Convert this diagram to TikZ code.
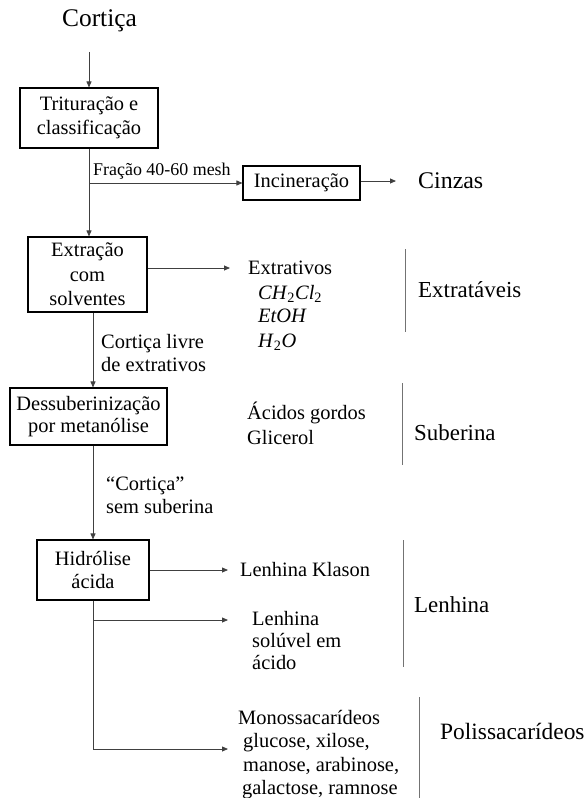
\documentclass[tikz,border=0pt]{standalone}
\usepackage{fontspec}
\setmainfont{Liberation Serif}
\usetikzlibrary{arrows.meta}
\newcommand{\chemsub}[1]{\textsubscript{#1}}
\begin{document}
\begin{tikzpicture}[x=1bp,y=-1bp,
  box/.style={draw=black, line width=1.1bp, inner sep=0, align=center},
  txt/.style={inner sep=0, anchor=west, align=left, font=\fontsize{20.5}{22.5}\selectfont},
  big/.style={inner sep=0, anchor=west, font=\fontsize{23}{26}\selectfont},
  con/.style={draw=black!75, line width=0.8bp},
  arr/.style={con, -{Triangle[length=6bp,width=5bp]}},
  sep/.style={draw=black!55, line width=0.9bp}]
\useasboundingbox (0,0) rectangle (587,798);

% title
\node[inner sep=0, font=\fontsize{25.5}{28}\selectfont] (title) at (99.5,21) {Cortiça};
\coordinate (c0) at (89,52);

% process boxes
\node[box, minimum width=138bp, minimum height=60bp, font=\fontsize{20.5}{24}\selectfont] (b1) at (89,118) {Trituração e\\classificação};
\node[box, minimum width=117bp, minimum height=34bp, font=\fontsize{20.5}{24}\selectfont] (inc) at (301.5,183) {Incineração};
\node[box, minimum width=119bp, minimum height=75bp, font=\fontsize{20.5}{24.5}\selectfont] (b2) at (87.5,274.5) {Extração\\com\\solventes};
\node[box, minimum width=157bp, minimum height=57bp, font=\fontsize{20.5}{22}\selectfont] (b3) at (88.5,416.5) {Dessuberinização\\por metanólise};
\node[box, minimum width=112bp, minimum height=60bp, font=\fontsize{20.5}{23}\selectfont] (b4) at (93,570) {Hidrólise\\ácida};

% products
\node[inner sep=0, anchor=west, font=\fontsize{24}{26}\selectfont] (cin) at (418,181) {Cinzas};
\node[txt] (ext) at (248,268) {Extrativos};
\node[txt] (m1) at (258,294) {\textit{CH}\chemsub{2}\textit{Cl}\chemsub{2}};
\node[txt] (m2) at (258,316) {\textit{EtOH}};
\node[txt] (m3) at (258,342) {\textit{H}\chemsub{2}\textit{O}};
\node[txt, font=\fontsize{20.5}{25}\selectfont] (acg) at (247,423.5) {Ácidos gordos\\Glicerol};
\node[txt] (lk) at (240,570) {Lenhina Klason};
\node[txt, anchor=north west, font=\fontsize{20.5}{22}\selectfont] (ls) at (252,611) {Lenhina\\solúvel em\\ácido};
\node[txt, anchor=north west, font=\fontsize{20.5}{23.5}\selectfont] (mono) at (238,710) {Monossacarídeos\\\hspace*{5bp}glucose, xilose,\\\hspace*{5bp}manose, arabinose,\\\hspace*{4bp}galactose, ramnose};

% group labels
\node[big] (gext) at (418,290) {Extratáveis};
\node[big] (gsub) at (414,433) {Suberina};
\node[big] (glen) at (414,605) {Lenhina};
\node[big, font=\fontsize{23.5}{26}\selectfont] (gpol) at (440,731) {Polissacarídeos};

% edge labels
\node[txt, anchor=south west, font=\fontsize{18}{20}\selectfont] (lfr) at (93,179.5) {Fração 40-60 mesh};
\node[txt] (lcl) at (101,353) {Cortiça livre\\de extrativos};
\node[txt, font=\fontsize{20.5}{23}\selectfont] (lcs) at (106,495.5) {“Cortiça”\\sem suberina};

% connectors
\draw[arr] (c0) -- (b1.north);
\draw[arr] (b1.south) -- (b1.south |- b2.north);
\coordinate (j1) at (b1.south |- inc.west);
\draw[arr] (j1) -- (inc.west);
\draw[arr, shorten >=22bp] (inc.east |- cin.west) -- (cin.west);
\draw[arr, shorten >=18bp] (b2.east |- ext.west) -- (ext.west);
\draw[arr] (b2.south -| b4.north) -- (b3.north -| b4.north);
\draw[arr] (b3.south -| b4.north) -- (b4.north);
\draw[arr, shorten >=12bp] (b4.east |- lk.west) -- (lk.west);
\coordinate (lsin) at (228,620);
\coordinate (moin) at (228,749);
\draw[arr] (b4.south) |- (lsin);
\draw[arr] (b4.south) |- (moin);

% separators
\draw[sep] (405,249) -- (405,332);
\draw[sep] (402,383) -- (402,465);
\draw[sep] (403,540) -- (403,667);
\draw[sep] (419,697) -- (419,798);
\end{tikzpicture}
\end{document}
